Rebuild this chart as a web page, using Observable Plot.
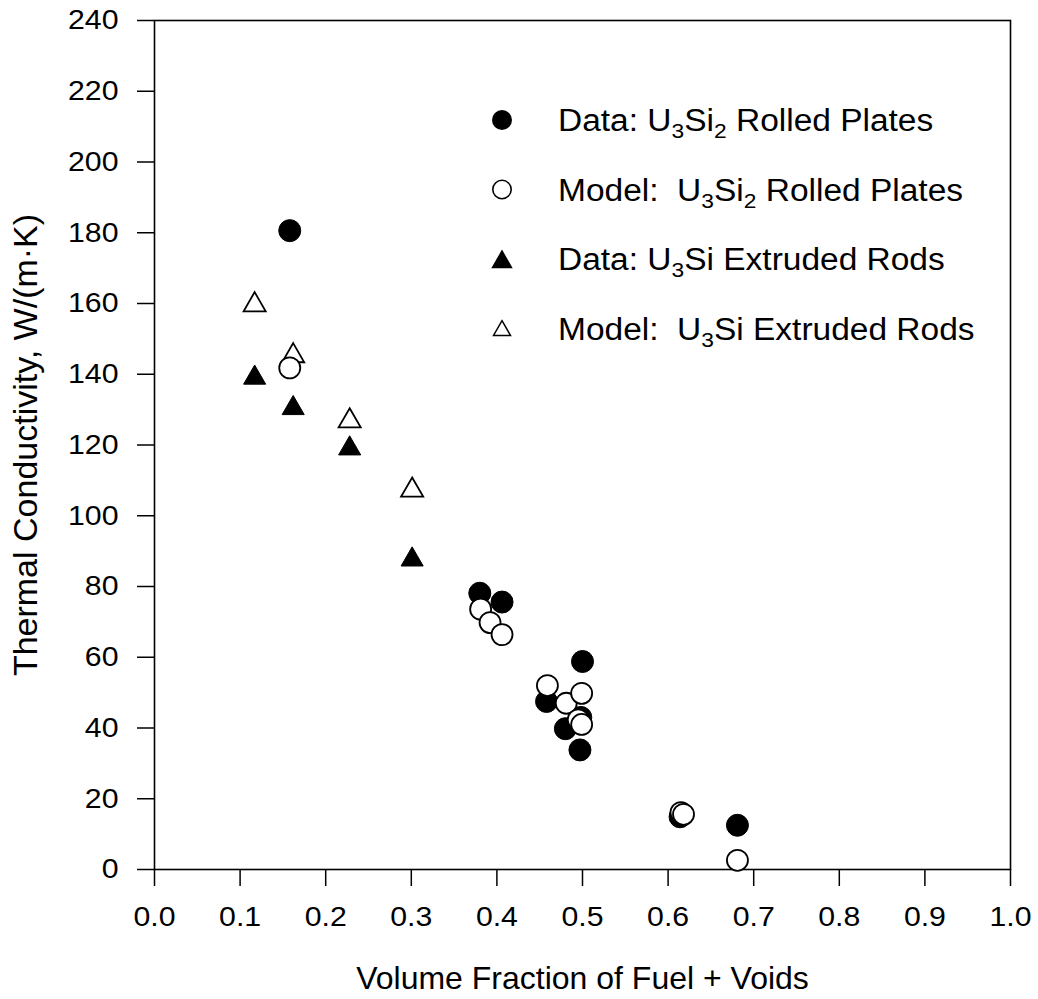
<!DOCTYPE html>
<html>
<head>
<meta charset="utf-8">
<script src="https://cdn.jsdelivr.net/npm/d3@7"></script>
<script src="https://cdn.jsdelivr.net/npm/@observablehq/plot@0.6"></script>
<style>
  html, body { margin: 0; padding: 0; background: white; }
  #wrap { position: relative; width: 1038px; height: 999px; font-family: "Liberation Sans", Arial, sans-serif; }
  #legend { position: absolute; left: 0; top: 0; pointer-events: none; }
  .lrow { position: absolute; left: 558px; font-size: 31px; white-space: pre; line-height: 1; transform-origin: 0 50%; transform: translateY(-50%) scaleX(1.08); color: black; }
  .lrow sub { font-size: 0.68em; vertical-align: -0.36em; line-height: 0; }
</style>
</head>
<body>
<div id="wrap"></div>
<script>
// ---- data ----
const xTicks = [0.0, 0.1, 0.2, 0.3, 0.4, 0.5, 0.6, 0.7, 0.8, 0.9, 1.0];
const yTicks = [0, 20, 40, 60, 80, 100, 120, 140, 160, 180, 200, 220, 240];

const dataPlatesX  = [0.158, 0.380, 0.406, 0.500, 0.458, 0.480, 0.498, 0.497, 0.614, 0.681];
const dataPlatesY  = [180.6, 78.1, 75.6, 58.8, 47.5, 39.8, 43.0, 33.8, 14.9, 12.5];

const modelPlatesX = [0.158, 0.381, 0.392, 0.406, 0.459, 0.481, 0.499, 0.495, 0.499, 0.615, 0.618, 0.681];
const modelPlatesY = [141.8, 73.6, 69.8, 66.4, 52.0, 47.0, 49.8, 42.3, 41.0, 16.1, 15.6, 2.6];

const dataRodsX  = [0.117, 0.162, 0.228, 0.301];
const dataRodsY  = [139.0, 130.4, 119.0, 87.6];
const modelRodsX = [0.117, 0.162, 0.228, 0.301];
const modelRodsY = [159.6, 145.2, 126.8, 107.2];

const legendLabels = [
  "Data: U<sub>3</sub>Si<sub>2</sub> Rolled Plates",
  "Model:  U<sub>3</sub>Si<sub>2</sub> Rolled Plates",
  "Data: U<sub>3</sub>Si Extruded Rods",
  "Model:  U<sub>3</sub>Si Extruded Rods"
];
const xTitle = "Volume Fraction of Fuel + Voids";
const yTitle = "Thermal Conductivity, W/(m\u00B7K)";

// ---- build tables ----
const rows = (xs, ys) => xs.map((x, i) => ({x, y: ys[i]}));
const dataPlates = rows(dataPlatesX, dataPlatesY);
const modelPlates = rows(modelPlatesX, modelPlatesY);
const dataRods = rows(dataRodsX, dataRodsY);
const modelRods = rows(modelRodsX, modelRodsY);

const font = "'Liberation Sans', Arial, sans-serif";

const chart = Plot.plot({
  width: 1038,
  height: 999,
  marginLeft: 154,
  marginRight: 28,
  marginTop: 20,
  marginBottom: 130,
  style: {fontFamily: font, background: "white", color: "black", overflow: "visible"},
  x: {domain: [0, 1]},
  y: {domain: [0, 240]},
  marks: [
    Plot.frame({stroke: "black", strokeWidth: 1.6}),
    Plot.axisY(yTicks, {tickSize: 17, tickPadding: 19, fontSize: 28, label: null, strokeWidth: 1.5}),
    Plot.axisX(xTicks, {tickSize: 17, tickPadding: 20, fontSize: 28, label: null, strokeWidth: 1.5, tickFormat: d => d.toFixed(1)}),
    Plot.text([yTitle], {frameAnchor: "left", dx: -128, rotate: -90, textAnchor: "middle", lineAnchor: "middle", text: d => d, fontSize: 34}),
    Plot.text([xTitle], {frameAnchor: "bottom", dy: 109, textAnchor: "middle", lineAnchor: "middle", text: d => d, fontSize: 32}),
    Plot.dot(dataRods, {x: "x", y: "y", symbol: "triangle", r: 8.2, fill: "black", stroke: "black", strokeWidth: 1}),
    Plot.dot(modelRods, {x: "x", y: "y", symbol: "triangle", r: 8.2, fill: "white", stroke: "black", strokeWidth: 1.8}),
    Plot.dot(dataPlates, {x: "x", y: "y", r: 11, fill: "black", stroke: "black", strokeWidth: 1}),
    Plot.dot(modelPlates, {x: "x", y: "y", r: 10.5, fill: "white", stroke: "black", strokeWidth: 1.8})
  ]
});

// widen tick labels slightly, matching the reference's broad lettering
d3.select(chart).selectAll('g[aria-label="y-axis tick label"] text, g[aria-label="x-axis tick label"] text')
  .attr("transform", function() { return (this.getAttribute("transform") || "") + " scale(1.08,1)"; });

const wrap = document.getElementById("wrap");
wrap.appendChild(chart);

// ---- legend, inside the plot area ----
const legendY = [120, 189.5, 259, 328.5];
const lg = d3.select(wrap).append("svg").attr("id", "legend").attr("width", 1038).attr("height", 999);
const symX = 502;
lg.append("circle").attr("cx", symX).attr("cy", legendY[0]).attr("r", 10).attr("fill", "black");
lg.append("circle").attr("cx", symX).attr("cy", legendY[1]).attr("r", 9.2).attr("fill", "white").attr("stroke", "black").attr("stroke-width", 1.6);
lg.append("path").attr("transform", `translate(${symX},${legendY[2] + 3})`).attr("d", d3.symbol(d3.symbolTriangle, 200)()).attr("fill", "black");
lg.append("path").attr("transform", `translate(${symX},${legendY[3] + 2})`).attr("d", d3.symbol(d3.symbolTriangle, 125)()).attr("fill", "white").attr("stroke", "black").attr("stroke-width", 1.5);
legendLabels.forEach((t, i) => {
  const div = document.createElement("div");
  div.className = "lrow";
  div.style.top = legendY[i] + "px";
  div.innerHTML = t;
  wrap.appendChild(div);
});
</script>
</body>
</html>
